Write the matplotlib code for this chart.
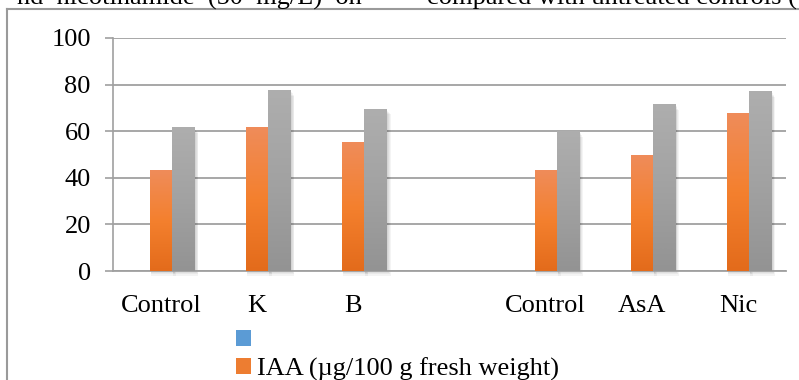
#!/usr/bin/env python3
# IAA bar chart: control / K / B and control / AsA / Nic

import numpy as np
import matplotlib
matplotlib.use("Agg")
import matplotlib.pyplot as plt
from matplotlib.colors import LinearSegmentedColormap
from matplotlib.patches import Patch, Rectangle
from matplotlib.lines import Line2D

# Data
categories = ["Control", "K", "B", "", "Control", "AsA", "Nic"]
series_blue = [0, 0, 0, 0, 0, 0, 0]
iaa = [43, 61.5, 55, 0, 43, 49.5, 67.5]
series_gray = [61.5, 77.5, 69.5, 0, 60, 71.5, 77]
legend_labels = ["", "IAA (\u00b5g/100 g fresh weight)"]
yticks = [0, 20, 40, 60, 80, 100]

plt.rcParams['font.family'] = ['Liberation Serif', 'DejaVu Serif']

W, H = 799, 380
fig = plt.figure(figsize=(W / 100, H / 100), dpi=100)
ax = fig.add_axes([113 / W, 1 - 271 / H, (786 - 113) / W, (271 - 38) / H])

x = np.arange(len(categories))
bw = 0.23
blue_bars = ax.bar(x - bw, series_blue, bw, color="#5B9BD5", zorder=3)
orange_bars = ax.bar(x, iaa, bw, color="#ED7D31", zorder=3)
gray_bars = ax.bar(x + bw, series_gray, bw, color="#A5A5A5", zorder=3)

# soft shadow to the right of / below each bar
for bars in [orange_bars, gray_bars]:
    for b in bars:
        h = b.get_height()
        if h <= 0:
            continue
        for k in range(1, 5):
            d = 0.008 * k
            ax.add_patch(Rectangle((b.get_x() + 0.01, -0.5 * k), b.get_width() + d, h - 0.3,
                                   facecolor="black", alpha=0.045, lw=0, zorder=2,
                                   clip_on=False))

# vertical gradient fill on the bars
cm_orange = LinearSegmentedColormap.from_list("o", ["#E36B1B", "#F4802E", "#EF8C5A"])
cm_gray = LinearSegmentedColormap.from_list("g", ["#939393", "#A2A2A2", "#AEAEAE"])
grad = np.linspace(0, 1, 256).reshape(-1, 1)
for bars, cmap in [(orange_bars, cm_orange), (gray_bars, cm_gray)]:
    for b in bars:
        h = b.get_height()
        if h <= 0:
            continue
        bx = b.get_x()
        ax.imshow(grad, cmap=cmap, origin="lower", aspect="auto",
                  extent=[bx, bx + b.get_width(), 0, h], zorder=4)

ax.set_xlim(-0.5, len(categories) - 0.5)
ax.set_ylim(0, 100)
ax.set_yticks(yticks)
ax.set_xticks(x)
ax.set_xticklabels(categories)
ax.tick_params(axis="x", length=0, pad=17, labelsize=19)
ax.tick_params(axis="y", length=6, width=1.2, color="#A0A0A0", pad=10, labelsize=19)
ax.yaxis.grid(True, color="#A0A0A0", linewidth=1.3, zorder=1)
ax.set_axisbelow(True)
for s in ["top", "right"]:
    ax.spines[s].set_visible(False)
ax.spines["left"].set_color("#A0A0A0")
ax.spines["left"].set_linewidth(1.2)
ax.spines["bottom"].set_color("#A0A0A0")
ax.spines["bottom"].set_linewidth(1.3)

# legend below the axis
handles = [Patch(facecolor="#5B9BD5"), Patch(facecolor="#ED7D31")]
fig.legend(handles, legend_labels, loc="upper left",
           bbox_to_anchor=(236 / W, 1 - 330 / H), frameon=False,
           fontsize=19, handlelength=0.55, handleheight=0.55,
           handletextpad=0.25, labelspacing=0.2, borderpad=0, borderaxespad=0)

# frame of the chart object in the page
fig.add_artist(Line2D([7 / W, 7 / W], [0, 1 - 9 / H], color="#9A9A9A", lw=1.5))
fig.add_artist(Line2D([7 / W, 1], [1 - 9 / H, 1 - 9 / H], color="#9A9A9A", lw=1.5))

# page text cut off at the top
fig.text(362 / W, 1 - 5 / H, "nd  nicotinamide  (50  mg/L)  on", ha="right",
         va="baseline", fontsize=19)
fig.text(427 / W, 1 - 5 / H, "compared with untreated controls (", ha="left",
         va="baseline", fontsize=19)

fig.savefig("out.png", dpi=100)
